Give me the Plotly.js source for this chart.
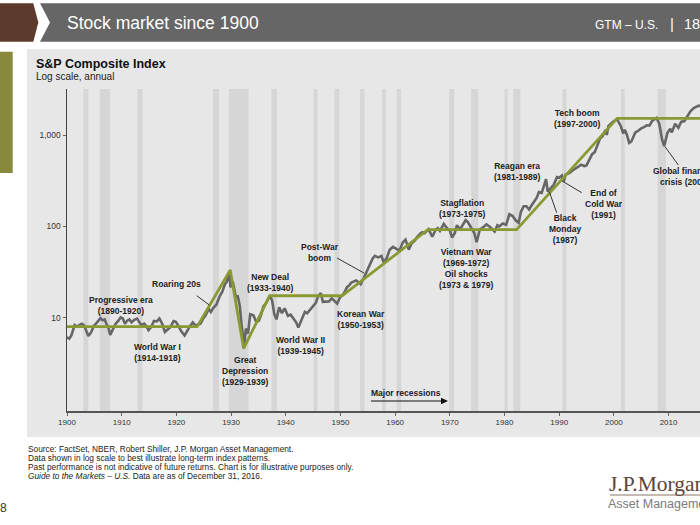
<!DOCTYPE html>
<html><head><meta charset="utf-8">
<script src="https://cdn.plot.ly/plotly-3.0.1.min.js"></script>
<style>html,body{margin:0;padding:0;background:#fff;overflow:hidden}#chart{width:700px;height:525px}</style>
</head><body><div id="chart"></div>
<script>
// S&P Composite index (log scale)
const years = [1900.0,1900.4,1900.8,1901.1,1901.4,1901.8,1902.2,1902.7,1903.1,1903.5,1903.9,1904.4,1904.9,1905.3,1905.8,1906.1,1906.5,1906.9,1907.2,1907.6,1907.9,1908.4,1908.9,1909.4,1909.8,1910.2,1910.6,1911.0,1911.4,1911.8,1912.3,1912.8,1913.2,1913.6,1914.1,1914.5,1914.9,1915.4,1915.9,1916.4,1916.9,1917.4,1917.9,1918.4,1918.9,1919.5,1919.9,1920.4,1920.9,1921.5,1921.9,1922.5,1923.0,1923.5,1923.9,1924.4,1924.9,1925.3,1925.9,1926.3,1926.8,1927.3,1927.9,1928.4,1928.9,1929.2,1929.7,1929.9,1930.3,1930.9,1931.2,1931.6,1931.9,1932.4,1932.7,1933.1,1933.5,1934.1,1934.6,1935.1,1935.5,1935.9,1936.4,1937.1,1937.5,1937.9,1938.3,1938.8,1939.3,1939.8,1940.4,1940.9,1941.4,1941.9,1942.3,1942.9,1943.5,1943.9,1944.5,1944.9,1945.5,1945.9,1946.4,1946.8,1947.5,1947.9,1948.4,1949.4,1949.9,1950.5,1950.9,1951.2,1951.6,1952.0,1952.9,1953.4,1953.7,1954.3,1954.9,1955.5,1955.9,1956.3,1956.9,1957.5,1957.9,1958.5,1959.0,1959.6,1960.3,1960.8,1961.4,1961.9,1962.5,1963.0,1963.6,1964.0,1964.6,1965.0,1965.4,1966.1,1966.8,1967.4,1967.8,1968.2,1968.9,1969.5,1970.0,1970.4,1970.9,1971.3,1971.9,1972.5,1972.9,1973.3,1973.6,1973.9,1974.5,1974.9,1975.5,1976.0,1976.7,1977.3,1977.9,1978.2,1978.7,1979.0,1979.7,1980.3,1980.9,1981.5,1982.0,1982.6,1983.0,1983.5,1984.0,1984.5,1985.0,1985.5,1985.9,1986.3,1986.8,1987.1,1987.6,1987.9,1988.5,1989.0,1989.6,1990.0,1990.5,1990.8,1991.2,1991.9,1992.5,1993.0,1993.5,1994.0,1994.6,1995.0,1995.6,1996.0,1996.5,1997.0,1997.5,1997.9,1998.5,1998.7,1999.0,1999.6,2000.0,2000.6,2001.0,2001.3,2001.7,2002.0,2002.4,2002.8,2003.2,2003.9,2004.5,2005.0,2005.6,2006.0,2006.5,2007.0,2007.8,2008.3,2008.8,2009.2,2009.8,2010.3,2010.6,2011.2,2011.8,2012.3,2012.9,2013.5,2014.0,2014.6,2015.0,2015.5,2015.9,2016.1,2016.6,2016.95];
const indexValues = [6.1,5.9,6.4,7.3,8.3,8.0,8.2,8.6,8.3,7.2,6.3,6.9,8.1,8.6,9.3,9.9,9.4,9.6,8.6,7.7,6.5,7.4,8.6,9.3,10.1,9.8,8.6,9.3,9.6,8.9,9.5,9.8,9.0,8.3,8.6,8.1,7.3,7.9,9.2,9.1,9.8,8.6,7.0,7.5,7.9,9.2,9.0,8.1,7.1,6.4,7.1,8.1,8.9,8.2,8.4,8.6,9.8,10.5,12.5,11.6,12.9,13.9,17.1,19.3,23.5,24.5,31.0,21.5,25.0,16.5,17.5,13.5,8.5,4.9,7.6,6.7,10.9,10.6,9.0,9.3,10.8,13.3,14.4,17.4,15.5,11.0,9.6,13.0,11.2,12.7,10.5,10.8,9.8,8.9,7.8,9.4,11.6,11.2,12.3,13.0,14.6,17.0,18.6,14.9,15.2,15.1,16.3,14.3,16.6,18.0,19.8,21.6,22.6,24.2,25.6,24.3,23.3,27.5,33.5,40.0,44.5,47.5,45.8,47.5,40.3,45.5,55.6,59.6,55.8,54.2,66.5,71.5,55.6,65.0,70.0,76.5,83.5,86.1,84.0,93.3,77.1,91.4,95.7,89.1,106.5,95.2,90.3,75.6,84.3,103.0,93.0,107.0,117.5,111.5,104.0,97.0,84.0,67.1,93.0,96.9,105.2,99.0,92.0,88.0,103.0,99.7,107.4,104.0,135.8,130.0,117.3,109.4,144.3,166.4,166.4,153.0,171.6,189.0,206.0,238.0,233.0,264.5,329.4,240.9,265.0,285.4,346.0,340.0,360.0,307.0,370.0,385.0,412.0,435.2,450.0,473.0,458.0,465.3,560.0,614.4,650.0,766.2,925.0,960.0,1140.0,1000.0,1248.8,1360.0,1425.6,1485.0,1335.6,1240.0,1040.0,1140.0,1000.0,820.0,850.0,1060.0,1120.0,1181.4,1225.0,1278.7,1270.0,1424.2,1539.0,1330.0,900.0,757.0,1060.0,1170.0,1070.0,1330.0,1200.0,1390.0,1420.0,1640.0,1822.4,1970.0,2028.2,2100.0,2050.0,1918.6,2170.0,2246.0];

// Stylised trend line (green)
const trendYears = [1900, 1923.8, 1929.85, 1932.3, 1937.05, 1950.3, 1966.0, 1982.2, 2000.6, 2017];
const trendValues = [8.0, 8.0, 33.3, 4.6, 17.4, 17.4, 92, 92, 1520, 1520];

// Major recessions (shaded bands)
const recessionStart = [1903.0,1906.0,1912.9,1926.7,1929.6,1937.4,1945.1,1948.9,1953.6,1957.6,1960.3,1969.9,1973.9,1980.0,1981.6,1990.6,2001.3,2008.0];
const recessionEnd   = [1903.9,1907.9,1913.8,1927.8,1933.2,1938.4,1945.8,1949.8,1954.4,1958.3,1961.1,1970.8,1975.2,1980.6,1982.9,1991.3,2002.0,2009.5];

// Axis ticks
const xTickYears = [1900,1910,1920,1930,1940,1950,1960,1970,1980,1990,2000,2010];
const yTickValues = [10, 100, 1000];
const yTickLabels = ['10', '100', '1,000'];

// Event labels
const eventLabels = ['Progressive era<br>(1890-1920)','World War I<br>(1914-1918)','Roaring 20s','New Deal<br>(1933-1940)','Great<br>Depression<br>(1929-1939)','World War II<br>(1939-1945)','Post-War<br>boom','Korean War<br>(1950-1953)','Vietnam War<br>(1969-1972)<br>Oil shocks<br>(1973 &amp; 1979)','Stagflation<br>(1973-1975)','Reagan era<br>(1981-1989)','Black<br>Monday<br>(1987)','End of<br>Cold War<br>(1991)','Tech boom<br>(1997-2000)','Global financial<br>crisis (2008)','Major recessions'];
const eventPos = [[121,305],[157,352],[176,284],[270,282],[245,371],[300,345],[320,252],[361,319.5],[466,268],[462,208],[517,171.5],[565,228.5],[604,204],[577,118.5],[684,176.5],[406,393]];
const pointerLines = [[196.7,295.7,209.3,305],[337,258,364,273],[549.3,191.7,556.7,212.7],[563.3,181.7,581.7,192.7],[665,146.7,678.3,165]];

const L = 67, R = 700, T = 89, B = 411;
const PX = p => (p - L) / (R - L);
const PY = p => (B - p) / (B - T);
const FONT = 'Liberation Sans, Arial, sans-serif';

const shapes = [];
// slide panel
shapes.push({type:'rect', xref:'paper', yref:'paper', x0:PX(27), x1:PX(700), y0:PY(437), y1:PY(49), fillcolor:'#e7e7e7', line:{width:0}, layer:'below'});
shapes.push({type:'rect', xref:'paper', yref:'paper', x0:PX(0), x1:PX(12.7), y0:PY(173), y1:PY(51.7), fillcolor:'#878a3b', line:{width:0}, layer:'below'});
// header
const hp = pts => 'M ' + pts.map(p => PX(p[0]) + ',' + PY(p[1])).join(' L ') + ' Z';
shapes.push({type:'path', xref:'paper', yref:'paper', path: hp([[0,3.3],[33.3,3.3],[38.3,22.5],[33.3,41.7],[0,41.7]]), fillcolor:'#5c3b2d', line:{width:0}, layer:'below'});
shapes.push({type:'path', xref:'paper', yref:'paper', path: hp([[40,3.3],[700,3.3],[700,41.7],[40,41.7],[50,22.5]]), fillcolor:'#666666', line:{width:0}, layer:'below'});
// recession bands
for (let i = 0; i < recessionStart.length; i++) {
  shapes.push({type:'rect', xref:'x', yref:'paper', x0:recessionStart[i], x1:recessionEnd[i], y0:0, y1:1, fillcolor:'#d6d6d6', line:{width:0}, layer:'below'});
}
// pointer lines
pointerLines.forEach(l => shapes.push({type:'line', xref:'paper', yref:'paper', x0:PX(l[0]), y0:PY(l[1]), x1:PX(l[2]), y1:PY(l[3]), line:{color:'#333', width:1}}));
// major recessions arrow
shapes.push({type:'line', xref:'paper', yref:'paper', x0:PX(371), y0:PY(401), x1:PX(442), y1:PY(401), line:{color:'#111', width:1}});
shapes.push({type:'path', xref:'paper', yref:'paper', path: hp([[441,397.8],[448,401],[441,404.2]]), fillcolor:'#111', line:{width:0}});
// logo underline
shapes.push({type:'line', xref:'paper', yref:'paper', x0:PX(610), y0:PY(495), x1:PX(700), y1:PY(495), line:{color:'#8a7468', width:1}});

const annotations = [];
eventLabels.forEach((t, i) => annotations.push({
  xref:'paper', yref:'paper', x:PX(eventPos[i][0]), y:PY(eventPos[i][1]), text:'<b>'+t+'</b>',
  showarrow:false, xanchor:'center', yanchor:'middle', align:'center',
  font:{family:FONT, size:8.5, color:'#222'}
}));
function txt(text, px, py, size, color, xanchor, family, extra) {
  annotations.push(Object.assign({xref:'paper', yref:'paper', x:PX(px), y:PY(py), text:text, showarrow:false,
    xanchor:xanchor||'left', yanchor:'middle', align:xanchor||'left', font:{family:family||FONT, size:size, color:color}}, extra||{}));
}
txt('Stock market since 1900', 65, 23, 17.5, '#ffffff');
txt('GTM – U.S.', 660, 24.5, 12, '#ffffff', 'right');
txt('|', 672, 24, 15, '#ffffff', 'center');
txt('18', 682, 24, 14.5, '#ffffff');
txt('<b>S&amp;P Composite Index</b>', 34, 64, 12.5, '#111');
txt('Log scale, annual', 34, 77, 10, '#222');
txt('Source: FactSet, NBER, Robert Shiller, J.P. Morgan Asset Management.', 26, 449, 8.3, '#222');
txt('Data shown in log scale to best illustrate long-term index patterns.', 26, 458, 8.3, '#222');
txt('Past performance is not indicative of future returns. Chart is for illustrative purposes only.', 26, 467, 8.3, '#222');
txt('<i>Guide to the Markets – U.S.</i> Data are as of December 31, 2016.', 26, 476, 8.3, '#222');
txt('8', -2, 508, 12, '#333');
txt('J.P.Morgan', 607, 484.5, 21.5, '#5e4336', 'left', 'Liberation Serif, Times New Roman, serif');
txt('Asset Management', 606, 504, 12.5, '#7a7a7a', 'left', 'Liberation Sans Narrow, Arial Narrow, sans-serif');

const data = [
  {x: years, y: indexValues, type:'scatter', mode:'lines', line:{color:'#666666', width:2.6}, hoverinfo:'skip'},
  {x: trendYears, y: trendValues, type:'scatter', mode:'lines', line:{color:'#8b9932', width:2.8}, hoverinfo:'skip'}
];

const layout = {
  width:700, height:525,
  margin:{l:L, r:0, t:T, b:525-B, pad:0},
  paper_bgcolor:'#ffffff', plot_bgcolor:'rgba(0,0,0,0)',
  showlegend:false,
  xaxis:{range:[1900, 2015.75], tickvals:xTickYears, ticktext:xTickYears.map(String), showgrid:false, zeroline:false,
    showline:true, linecolor:'#555', linewidth:1.5, ticks:'outside', ticklen:3, tickcolor:'#666', tickwidth:1,
    tickfont:{family:FONT, size:8, color:'#333'}, fixedrange:true},
  yaxis:{type:'log', range:[-0.021, 3.504], tickvals:yTickValues, ticktext:yTickLabels, showgrid:false, zeroline:false,
    showline:true, linecolor:'#444', linewidth:1.5, ticks:'outside', ticklen:3, tickcolor:'#666', tickwidth:1,
    tickfont:{family:FONT, size:8.5, color:'#333'}, fixedrange:true},
  shapes:shapes, annotations:annotations
};
Plotly.newPlot('chart', data, layout, {displayModeBar:false, staticPlot:true});
</script></body></html>
